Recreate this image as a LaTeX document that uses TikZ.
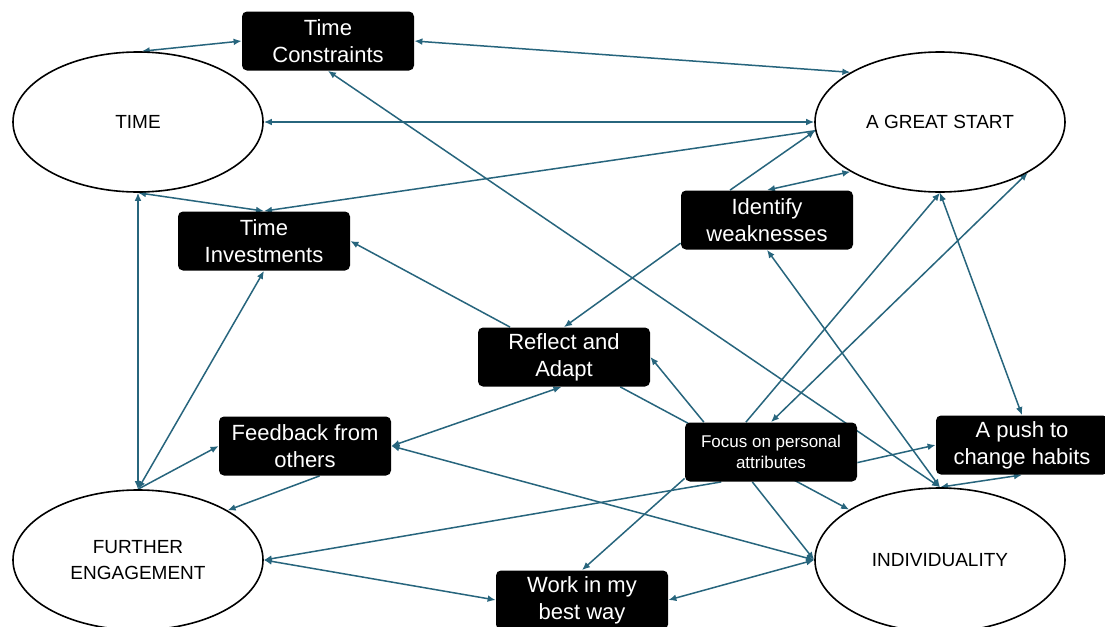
\documentclass[tikz,border=0pt]{standalone}
\usepackage{fontspec}
\setmainfont{Liberation Sans}
\usetikzlibrary{arrows.meta,shapes.geometric,backgrounds}

\definecolor{linkblue}{HTML}{27657D}

\tikzset{
  theme/.style={ellipse, draw=black, line width=0.8pt, fill=white,
    minimum width=125pt, minimum height=70pt, inner sep=0pt, align=center,
    font=\fontsize{9.5}{13}\selectfont},
  factor/.style={rectangle, rounded corners=2.5pt, fill=black, text=white,
    minimum width=86pt, minimum height=29.5pt, inner sep=0pt, align=center,
    font=\fontsize{11}{13.5}\selectfont},
  link/.style={draw=linkblue, line width=0.75pt,
    arrows={-Latex[length=4pt,width=3.4pt]}},
  both/.style={link, arrows={Latex[length=4pt,width=3.4pt]-Latex[length=4pt,width=3.4pt]}}
}

\begin{document}
\begin{tikzpicture}[x=0.5pt,y=-0.5pt]
    \useasboundingbox (0,0) rectangle (1105,627);

    % themes
    \node[theme] (time) at (138,122) {TIME};
    \node[theme] (ags) at (940,122) {A GREAT START};
    \node[theme] (fe) at (138,560) {FURTHER\\ENGAGEMENT};
    \node[theme, minimum height=72pt] (ind) at (940,560) {INDIVIDUALITY};

    % factors
    \node[factor] (tc) at (328,41) {Time\\Constraints};
    \node[factor] (ti) at (264,241) {Time\\Investments};
    \node[factor] (iw) at (767,220) {Identify\\weaknesses};
    \node[factor] (ra) at (564,357) {Reflect and\\Adapt};
    \node[factor] (fb) at (305,446) {Feedback from\\others};
    \node[factor, font=\fontsize{8.5}{10.5}\selectfont] (fp) at (771,452) {Focus on personal\\attributes};
    \node[factor] (pu) at (1022,445) {A push to\\change habits};
    \node[factor] (wb) at (582,600) {Work in my\\best way};

    \begin{scope}[on background layer]
    \fill[white] (0,0) rectangle (1105,627);
    \foreach \a/\b in {time.87/tc.west, tc.east/ags.151, time.east/ags.west,
        time.south/ti.north, time.south/fe.north, fe.north/ti.south,
        ind.north/tc.south, iw.north/ags.209, ind.north/iw.south,
        ags.-30/fp.north, ags.south/pu.north, ind.north/pu.south,
        fb.east/ra.-95, fb.east/ind.west, fe.east/wb.west, wb.east/ind.west}{
      \draw[both] (\a) -- (\b);
    }
    \foreach \a/\b in {ags.184/ti.north, ra.151/ti.east, iw.141/ags.184,
        iw.195/ra.north, fp.130/ags.south, fp.-7/pu.west, fp.156/ra.east,
        ra.-28/ind.151, fe.north/fb.west, fb.-64/fe.29, fp.211/fe.east,
        fp.197/wb.north, fp.238/ind.west}{
      \draw[link] (\a) -- (\b);
    }
    \end{scope}
  \end{tikzpicture}
\end{document}
